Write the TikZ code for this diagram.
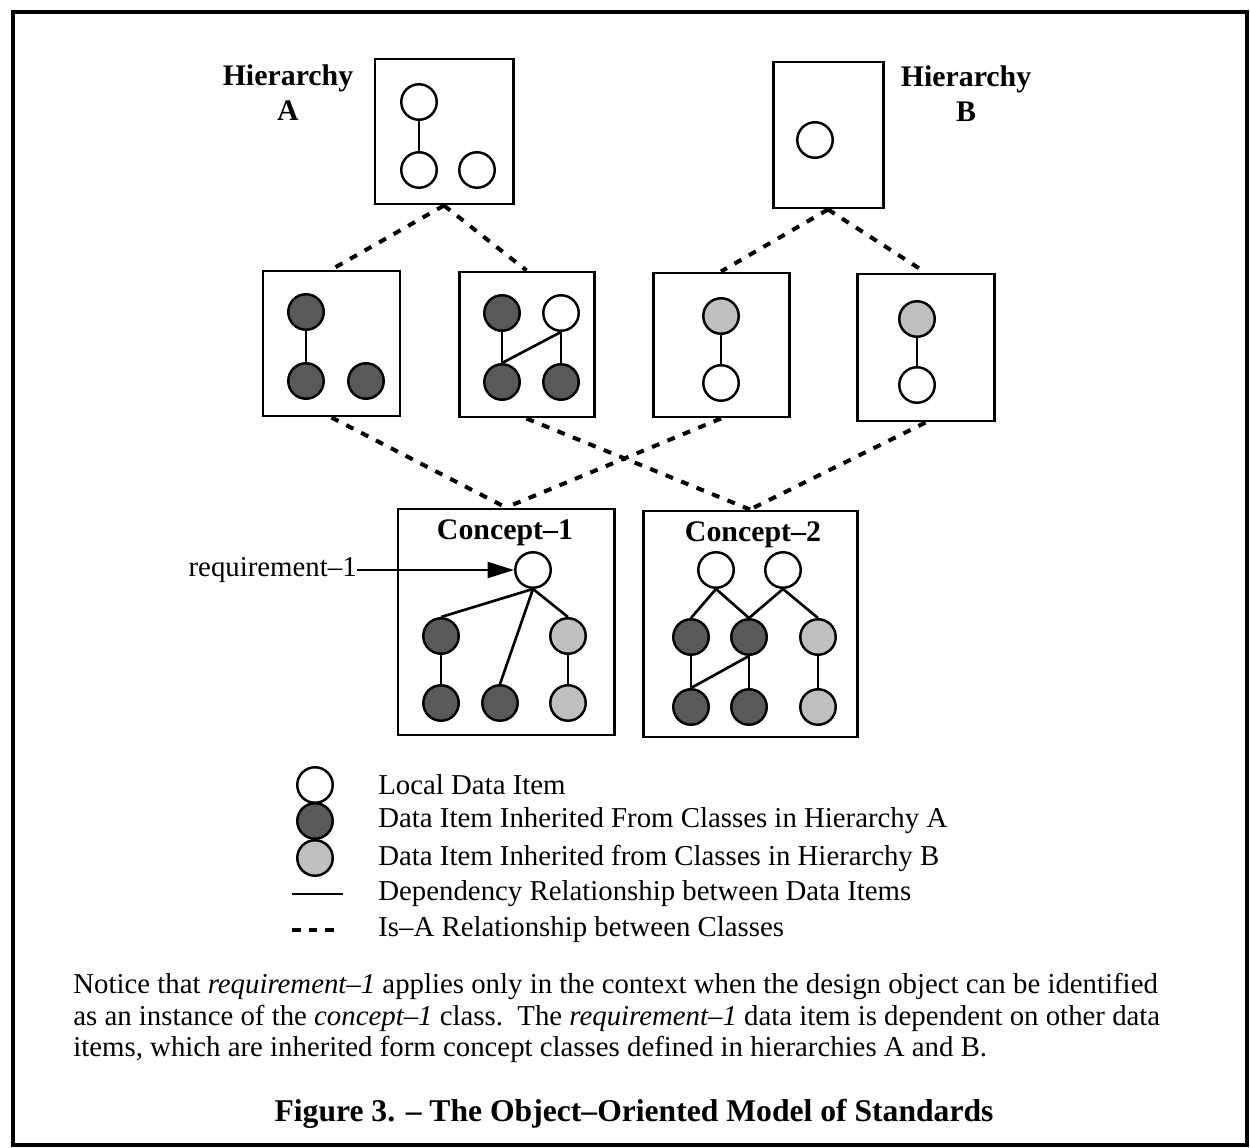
\documentclass[tikz,border=0pt]{standalone}
\usepackage{fontspec}
\setmainfont{Liberation Serif}
\usetikzlibrary{arrows.meta,fit}
\newcommand\bodysize{\fontsize{16.4}{19}\selectfont}
\newcommand\headsize{\fontsize{17}{20}\selectfont}
\newcommand\capsize{\fontsize{18}{21}\selectfont}
\tikzset{
  clsbox/.style={draw, line width=1.7pt, inner sep=0pt},
  item/.style={circle, draw, line width=1.4pt, minimum size=0.71cm, inner sep=0pt},
  loc/.style={item, fill=white},
  inha/.style={item, fill=black!65},
  inhb/.style={item, fill=black!25},
  dep/.style={line width=1.5pt},
  isa/.style={line width=2.3pt, dash pattern=on 4.5pt off 5pt},
  head/.style={font=\bfseries\headsize, align=center, inner sep=0pt},
  body/.style={font=\bodysize, inner sep=0pt, anchor=west},
}
\begin{document}
\begin{tikzpicture}[x=0.02cm, y=-0.02cm]
\useasboundingbox (0,0) rectangle (1250,1148);
\draw[line width=2pt] (13,12) rectangle (1247,1145);

% ---- hierarchy roots
\node[clsbox, fit={(375,59) (513,204)}] (A) {};
\node[loc] (a1) at (419,102) {};
\node[loc] (a2) at (419,170) {};
\node[loc] (a3) at (477,170) {};
\draw[dep] (a1) -- (a2);
\node[head] (hA) at (288,93) {Hierarchy\\A};

\node[clsbox, fit={(773,62) (883,208)}] (B) {};
\node[loc] (b1) at (815,140) {};
\node[head] (hB) at (966,94) {Hierarchy\\B};

% ---- intermediate classes
\node[clsbox, fit={(263,271) (400,416)}] (m1) {};
\node[inha] (m1a) at (306,312) {};
\node[inha] (m1b) at (306,381) {};
\node[inha] (m1c) at (366,381) {};
\draw[dep] (m1a) -- (m1b);

\node[clsbox, fit={(459,272) (594,417)}] (m2) {};
\node[inha] (m2a) at (502,313) {};
\node[loc]  (m2b) at (561,313) {};
\node[inha] (m2c) at (502,382) {};
\node[inha] (m2d) at (561,382) {};
\draw[dep] (m2a) -- (m2c);
\draw[dep] (m2b) -- (m2d);
\draw[dep] (m2b.south) -- (m2c.north);

\node[clsbox, fit={(653,273) (789,417)}] (m3) {};
\node[inhb] (m3a) at (721,316) {};
\node[loc]  (m3b) at (721,383) {};
\draw[dep] (m3a) -- (m3b);

\node[clsbox, fit={(857,274) (994,421)}] (m4) {};
\node[inhb] (m4a) at (917,319) {};
\node[loc]  (m4b) at (917,385) {};
\draw[dep] (m4a) -- (m4b);

% ---- concept classes
\node[clsbox, fit={(398,509) (614,735)}] (c1) {};
\node[head] (c1t) at (505,533) {Concept–1};
\node[loc]  (c1r) at (533,570) {};
\node[inha] (c1a) at (441,636) {};
\node[inhb] (c1b) at (568,636) {};
\node[inha] (c1c) at (441,703) {};
\node[inha] (c1d) at (500,703) {};
\node[inhb] (c1e) at (568,703) {};
\draw[dep] (c1r.south) -- (c1a.north);
\draw[dep] (c1r.south) -- (c1d.north);
\draw[dep] (c1r.south) -- (c1b.north);
\draw[dep] (c1a) -- (c1c);
\draw[dep] (c1b) -- (c1e);

\node[clsbox, fit={(643,511) (857,737)}] (c2) {};
\node[head] (c2t) at (753,535) {Concept–2};
\node[loc]  (c2p) at (716,570) {};
\node[loc]  (c2q) at (783,570) {};
\node[inha] (c2a) at (691,637) {};
\node[inha] (c2b) at (749,637) {};
\node[inhb] (c2c) at (818,637) {};
\node[inha] (c2d) at (691,707) {};
\node[inha] (c2e) at (749,707) {};
\node[inhb] (c2f) at (818,707) {};
\draw[dep] (c2p.south) -- (c2a.north);
\draw[dep] (c2p.south) -- (c2b.north);
\draw[dep] (c2q.south) -- (c2b.north);
\draw[dep] (c2q.south) -- (c2c.north);
\draw[dep] (c2a) -- (c2d);
\draw[dep] (c2b) -- (c2e);
\draw[dep] (c2c) -- (c2f);
\draw[dep] (c2b.south) -- (c2d.north);

% ---- is-a links
\draw[isa] (A.south) -- (m1.north);
\draw[isa] (A.south) -- (m2.north);
\draw[isa] (B.south) -- (m3.north);
\draw[isa] (B.south) -- (m4.north);
\draw[isa] (m1.south) -- (c1.north);
\draw[isa] (m3.south) -- (c1.north);
\draw[isa] (m2.south) -- (c2.north);
\draw[isa] (m4.south) -- (c2.north);

% ---- requirement pointer
\node[body, anchor=east] (req) at (357,570) {requirement–1};
\draw[dep, -{Triangle[length=15pt, width=9pt]}] (req.east) -- (c1r.west);

% ---- legend
\node[loc]  (k1) at (315,785) {};
\node[inha] (k2) at (315,821) {};
\node[inhb] (k3) at (315,858) {};
\coordinate (k4l) at (292,894);
\coordinate (k4r) at (343,894);
\coordinate (k5l) at (292,930);
\coordinate (k5r) at (339,930);
\draw[dep] (k4l) -- (k4r);
\draw[isa, dash pattern=on 5pt off 4.5pt] (k5l) -- (k5r);
\node[body] (t1) at (378,785) {Local Data Item};
\node[body] (t2) at (378,821) {Data Item Inherited From Classes in Hierarchy A};
\node[body] (t3) at (378,858) {Data Item Inherited from Classes in Hierarchy B};
\node[body] (t4) at (378,894) {Dependency Relationship between Data Items};
\node[body] (t5) at (378,930) {Is–A Relationship between Classes};

% ---- note and caption
\node[body] (n1) at (73,986) {Notice that \textit{requirement–1} applies only in the context when the design object can be identified};
\node[body] (n2) at (73,1018) {as an instance of the \textit{concept–1} class.\ \ The \textit{requirement–1} data item is dependent on other data};
\node[body] (n3) at (73,1049) {items, which are inherited form concept classes defined in hierarchies A and B.};
\node[font=\bfseries\capsize, inner sep=0pt] (cap) at (634,1114) {Figure 3. – The Object–Oriented Model of Standards};
\end{tikzpicture}
\end{document}
